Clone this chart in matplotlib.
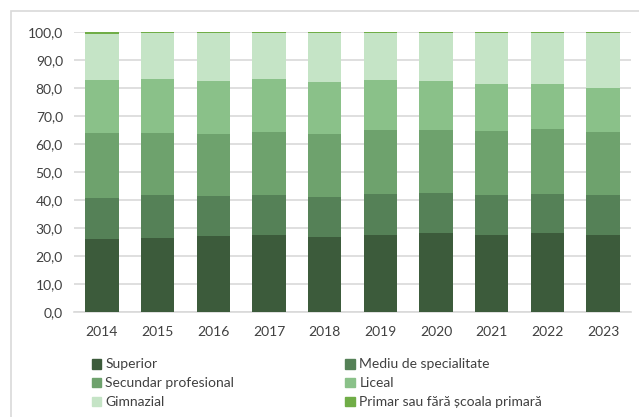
import matplotlib
matplotlib.use("Agg")
import matplotlib.pyplot as plt
from matplotlib.patches import Rectangle, Patch
import numpy as np

years = ["2014", "2015", "2016", "2017", "2018", "2019", "2020", "2021", "2022", "2023"]
superior = [26.0, 26.6, 27.3, 27.5, 26.9, 27.5, 28.2, 27.5, 28.2, 27.5]
mediu = [14.6, 15.3, 14.3, 14.4, 14.1, 14.8, 14.3, 14.4, 14.1, 14.4]
secundar = [23.5, 22.2, 22.1, 22.5, 22.5, 22.7, 22.5, 22.7, 23.1, 22.5]
liceal = [18.9, 19.2, 18.9, 18.9, 18.5, 18.0, 17.6, 16.8, 16.0, 15.6]
gimnazial = [16.3, 16.4, 17.1, 16.4, 17.7, 16.7, 17.1, 18.3, 18.4, 19.7]
primar = [0.7, 0.3, 0.3, 0.3, 0.3, 0.3, 0.3, 0.3, 0.3, 0.3]

names = ["Superior", "Mediu de specialitate", "Secundar profesional",
         "Liceal", "Gimnazial", "Primar sau fără școala primară"]
series = [superior, mediu, secundar, liceal, gimnazial, primar]
colors = ["#3C5B3B", "#558157", "#6EA26D", "#8AC189", "#C5E4C6", "#70AD47"]

plt.rcParams['font.family'] = ['Lato', 'DejaVu Sans']

fig = plt.figure(figsize=(6.39, 4.17), dpi=100)
ax = fig.add_axes([74/639, 1-312/417, (631-74)/639, (312-32)/417])

x = np.arange(len(years))
bottom = np.zeros(len(years))
for vals, c in zip(series, colors):
    ax.bar(x, vals, width=0.6, bottom=bottom, color=c, zorder=3)
    bottom += np.array(vals)

ax.set_xlim(-0.5, len(years) - 0.5)
ax.set_ylim(0, 100)
ax.set_yticks(np.arange(0, 101, 10))
ax.set_yticklabels([f"{v:.1f}".replace(".", ",") for v in np.arange(0, 101, 10)])
ax.set_xticks(x)
ax.set_xticklabels(years)
ax.tick_params(axis='both', length=0, labelsize=10, colors="#404040")
ax.tick_params(axis='x', pad=10)
ax.tick_params(axis='y', pad=8)
ax.grid(axis='y', color="#D9D9D9", linewidth=1.2, zorder=0)
for s in ["top", "right", "left"]:
    ax.spines[s].set_visible(False)
ax.spines["bottom"].set_color("#D9D9D9")
ax.spines["bottom"].set_linewidth(1.2)

order = [0, 2, 4, 1, 3, 5]
handles = [Patch(color=colors[i]) for i in order]
labels = [names[i] for i in order]
fig.legend(handles, labels, ncol=2, loc="upper left",
           bbox_to_anchor=(79/639, 1-346/417), frameon=False,
           fontsize=10, handlelength=0.7, handleheight=0.7,
           handletextpad=0.3, labelspacing=0.5, columnspacing=8.0,
           labelcolor="#404040")

fig.patches.append(Rectangle((11/639, -0.01), (639-11)/639 + 0.01, 1 - 11/417 + 0.01,
                             transform=fig.transFigure, fill=False,
                             edgecolor="#D9D9D9", linewidth=1.2))

fig.savefig("out.png", dpi=100)
